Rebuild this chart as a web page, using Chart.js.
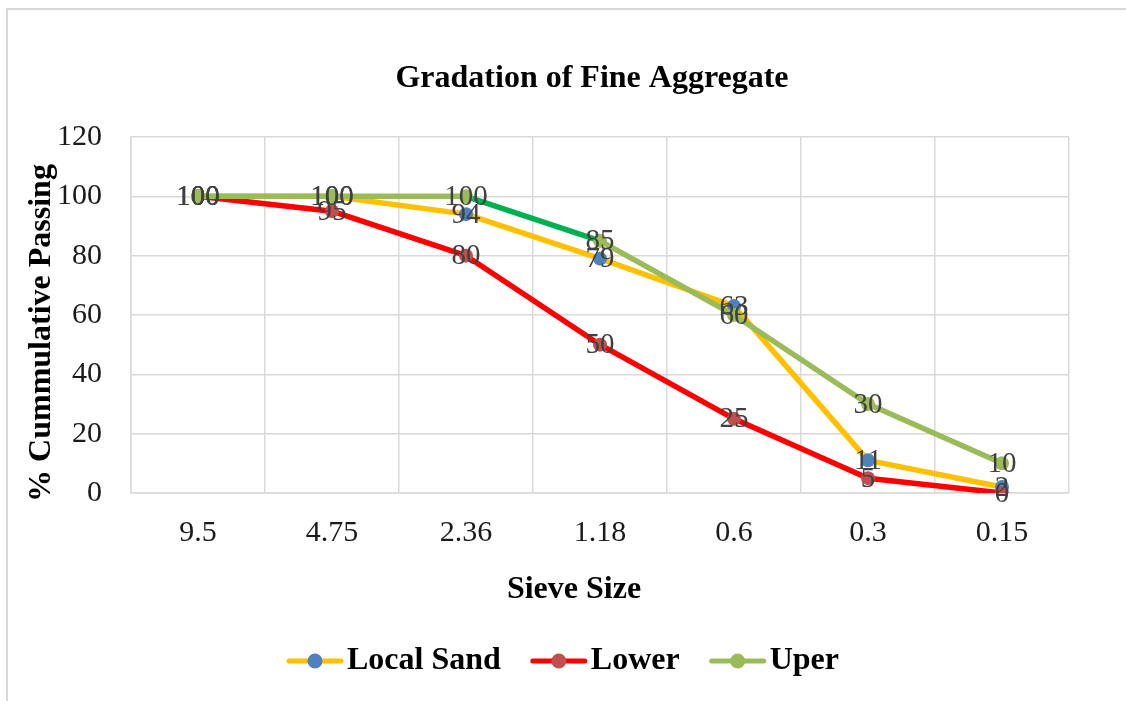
<!DOCTYPE html>
<html>
<head>
<meta charset="utf-8">
<script src="https://cdn.jsdelivr.net/npm/chart.js@4/dist/chart.umd.min.js"></script>
<style>
  html, body { margin: 0; padding: 0; background: #fff; overflow: hidden; }
  #wrap { position: relative; width: 1126px; height: 701px; }
  #frame { position: absolute; left: 6px; top: 8px; width: 1300px; height: 900px; border: 2px solid #d9d9d9; box-sizing: border-box; }
  canvas { position: absolute; left: 0; top: 0; }
</style>
</head>
<body>
<div id="wrap">
  <div id="frame"></div>
  <canvas id="c" width="1126" height="701"></canvas>
</div>
<script>
// ---- data ----
const sieveSizes = ["9.5", "4.75", "2.36", "1.18", "0.6", "0.3", "0.15"];
const localSand = [100, 100, 94, 79, 63, 11, 2];
const lowerLimit = [100, 95, 80, 50, 25, 5, 0];
const upperLimit = [100, 100, 100, 85, 60, 30, 10];
const seriesNames = ["Local Sand", "Lower", "Uper"];
const yTicks = [0, 20, 40, 60, 80, 100, 120];
const chartTitle = "Gradation of Fine Aggregate";
const xTitle = "Sieve Size";
const yTitle = "% Cummulative Passing";

const SERIF = '"Liberation Serif", "Times New Roman", serif';

const decorPlugin = {
  id: 'decor',
  afterDatasetsDraw(chart) {
    const ctx = chart.ctx;
    ctx.save();
    ctx.fillStyle = '#404040';
    ctx.font = '29px ' + SERIF;
    ctx.textAlign = 'center';
    ctx.textBaseline = 'middle';
    chart.data.datasets.forEach((ds, di) => {
      const meta = chart.getDatasetMeta(di);
      meta.data.forEach((pt, i) => {
        ctx.fillText(String(ds.data[i]), pt.x, pt.y + 1);
      });
    });
    ctx.restore();
  },
  afterDraw(chart) {
    const ctx = chart.ctx;
    const area = chart.chartArea;
    ctx.save();
    ctx.fillStyle = '#000';
    ctx.textBaseline = 'alphabetic';
    ctx.textAlign = 'center';
    // chart title
    ctx.font = 'bold 32px ' + SERIF;
    ctx.fillText(chartTitle, (area.left + area.right) / 2 - 8, 87);
    // x axis title
    ctx.fillText(xTitle, (area.left + area.right) / 2 - 26, 598);
    // y axis title
    ctx.save();
    ctx.translate(50, (area.top + area.bottom) / 2 + 18);
    ctx.rotate(-Math.PI / 2);
    ctx.fillText(yTitle, 0, 0);
    ctx.restore();
    // legend
    ctx.font = 'bold 32px ' + SERIF;
    const lineW = 56, gapText = 4, gapItem = 30;
    const items = chart.data.datasets.map(ds => ({
      ds, w: lineW + gapText + ctx.measureText(ds.label).width
    }));
    const total = items.reduce((s, it) => s + it.w, 0) + gapItem * (items.length - 1);
    let x = chart.width / 2 - total / 2;
    const y = 661;
    items.forEach(it => {
      ctx.strokeStyle = it.ds.borderColor;
      ctx.lineWidth = 5;
      ctx.lineCap = 'round';
      ctx.beginPath();
      ctx.moveTo(x + 2, y);
      ctx.lineTo(x + lineW - 2, y);
      ctx.stroke();
      ctx.fillStyle = it.ds.pointBackgroundColor;
      ctx.beginPath();
      ctx.arc(x + lineW / 2, y, 7.5, 0, Math.PI * 2);
      ctx.fill();
      ctx.fillStyle = '#000';
      ctx.textAlign = 'left';
      ctx.textBaseline = 'middle';
      ctx.fillText(it.ds.label, x + lineW + gapText, y);
      x += it.w + gapItem;
    });
    ctx.restore();
  }
};

new Chart(document.getElementById('c'), {
  type: 'line',
  data: {
    labels: sieveSizes,
    datasets: [
      {
        label: seriesNames[0], data: localSand, order: 3,
        borderColor: '#FFC000', backgroundColor: '#4F81BD',
        pointBackgroundColor: '#4F81BD', pointBorderColor: '#4F81BD'
      },
      {
        label: seriesNames[1], data: lowerLimit, order: 2,
        borderColor: '#FF0000', backgroundColor: '#C0504D',
        pointBackgroundColor: '#C0504D', pointBorderColor: '#C0504D'
      },
      {
        label: seriesNames[2], data: upperLimit, order: 1,
        borderColor: '#9BBB59', backgroundColor: '#9BBB59',
        pointBackgroundColor: '#9BBB59', pointBorderColor: '#9BBB59',
        segment: { borderColor: c => (c.p0DataIndex === 2 ? '#00B050' : undefined) }
      }
    ]
  },
  options: {
    responsive: false,
    animation: false,
    events: [],
    elements: {
      line: { borderWidth: 5.5, tension: 0, borderCapStyle: 'round', borderJoinStyle: 'round', fill: false },
      point: { radius: 7, borderWidth: 0, hoverRadius: 7 }
    },
    layout: { autoPadding: false, padding: { top: 137, right: 57, bottom: 0, left: 0 } },
    plugins: { legend: { display: false }, title: { display: false }, tooltip: { enabled: false } },
    scales: {
      x: {
        offset: true,
        grid: { color: '#d9d9d9', lineWidth: 1.5, drawTicks: false, offset: true },
        border: { color: '#d9d9d9', width: 1.5 },
        ticks: { color: '#1a1a1a', font: { family: SERIF, size: 30 }, padding: 22, maxRotation: 0, autoSkip: false },
        afterFit(s) { s.height = 208; }
      },
      y: {
        min: yTicks[0], max: yTicks[yTicks.length - 1],
        afterBuildTicks(s) { s.ticks = yTicks.map(v => ({ value: v })); },
        grid: { color: '#d9d9d9', lineWidth: 1.5, drawTicks: false },
        border: { color: '#d9d9d9', width: 1.5 },
        ticks: { color: '#1a1a1a', font: { family: SERIF, size: 30 }, padding: 29 },
        afterFit(s) { s.width = 131; }
      }
    }
  },
  plugins: [decorPlugin]
});
</script>
</body>
</html>
